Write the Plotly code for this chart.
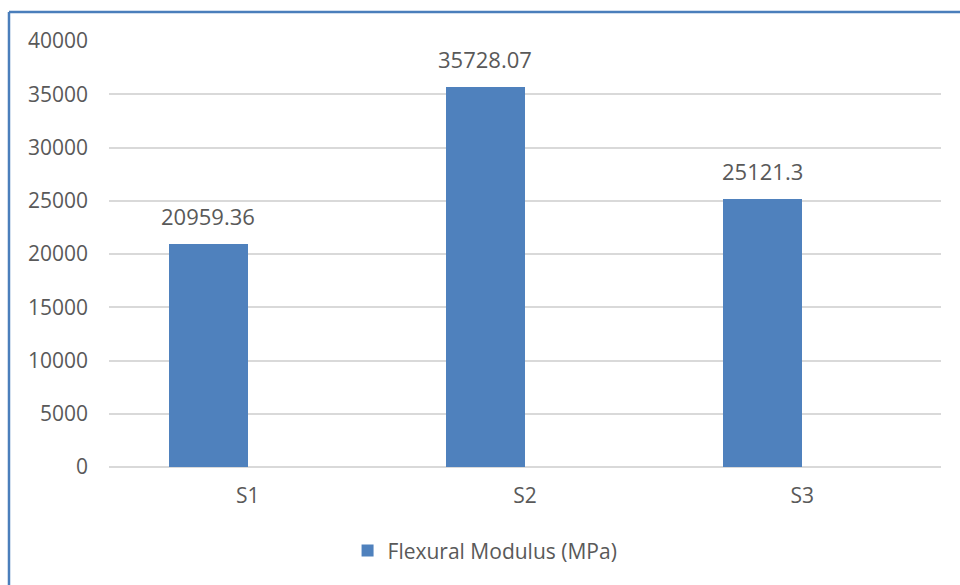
import plotly.graph_objects as go

# Flexural modulus per sample
categories = ["S1", "S2", "S3"]
modulus = [20959.36, 35728.07, 25121.3]
value_labels = ["20959.36", "35728.07", "25121.3"]
y_ticks = [0, 5000, 10000, 15000, 20000, 25000, 30000, 35000, 40000]
y_tick_text = [str(v) for v in y_ticks]

BAR_W = 0.285
FONT = "Open Sans"
TXT = "#595959"
BLUE = "#4f81bd"

fig = go.Figure()
fig.add_trace(go.Bar(
    x=categories, y=modulus, name="Flexural Modulus (MPa)",
    marker=dict(color=BLUE, line=dict(width=0)),
    width=BAR_W, offset=-BAR_W,
))

# value labels above each bar
for i, (v, t) in enumerate(zip(modulus, value_labels)):
    fig.add_annotation(x=i - BAR_W / 2, y=v, text=t, showarrow=False,
                       xref="x", yref="y", yanchor="bottom", yshift=11,
                       font=dict(family=FONT, size=22, color=TXT))

# chart frame (left and top edges)
frame = "#4a7ebb"
fig.add_shape(type="line", xref="paper", yref="paper",
              x0=-0.1202, x1=-0.1202, y0=1.068, y1=-0.30,
              line=dict(color=frame, width=2.5))
fig.add_shape(type="line", xref="paper", yref="paper",
              x0=-0.1202, x1=1.05, y0=1.068, y1=1.068,
              line=dict(color=frame, width=2.5))

fig.update_layout(
    width=960, height=585,
    margin=dict(l=109, r=19, t=41, b=118),
    plot_bgcolor="white", paper_bgcolor="white",
    font=dict(family=FONT, size=20, color=TXT),
    bargap=0,
    showlegend=True,
    legend=dict(orientation="h", x=0.452, y=-0.197, xanchor="center", yanchor="middle",
                font=dict(family=FONT, size=21, color=TXT)),
    xaxis=dict(range=[-0.5, 2.5], showgrid=False, showline=False, zeroline=False,
               ticks="", ticklabelstandoff=14,
               tickfont=dict(family=FONT, size=21, color=TXT)),
    yaxis=dict(range=[0, 40000], tickvals=y_ticks, ticktext=y_tick_text, showgrid=True,
               gridcolor="#d9d9d9", gridwidth=2, zeroline=True,
               zerolinecolor="#d9d9d9", zerolinewidth=2, showline=False,
               ticks="", ticklabelstandoff=20,
               tickfont=dict(family=FONT, size=21, color=TXT)),
)

fig.write_html("out.html")
